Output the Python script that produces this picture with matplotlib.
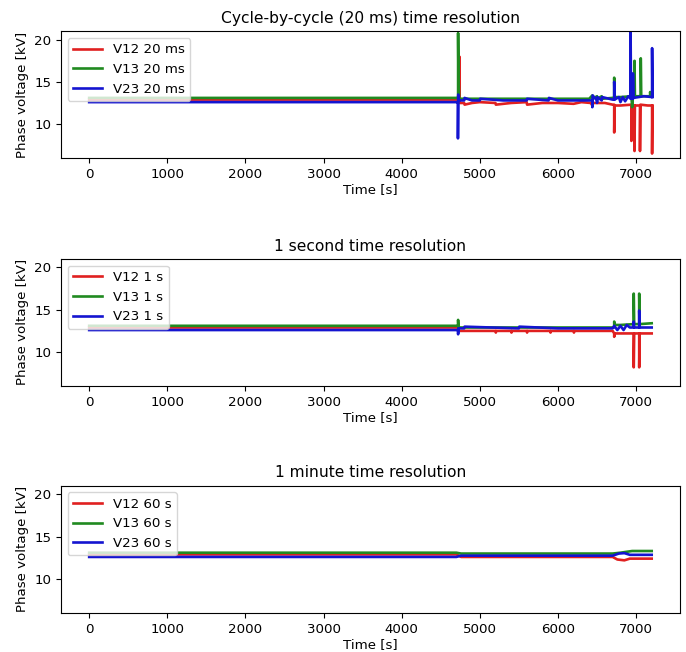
import matplotlib
matplotlib.use("Agg")
import matplotlib.pyplot as plt

# ---------------- data ----------------
# Panel 1: cycle-by-cycle (20 ms)
t12_20 = [0, 4715, 4738, 4738, 4742, 4760, 4800, 4805, 4900, 5000, 5200, 5205, 5400, 5600, 5605, 5800,
          6000, 6200, 6300, 6420, 6440, 6445, 6600, 6700, 6720, 6720, 6725, 6800, 6940, 6940, 6945,
          6980, 6980, 6985, 7050, 7050, 7055, 7150, 7205, 7205, 7210]
v12_20 = [12.9, 12.9, 12.9, 18.0, 12.5, 12.5, 12.5, 12.3, 12.5, 12.6, 12.5, 12.3, 12.5, 12.6, 12.3, 12.5,
          12.5, 12.4, 12.6, 12.5, 12.2, 12.5, 12.5, 12.3, 12.3, 9.0, 12.2, 12.2, 12.3, 8.0, 12.2,
          12.2, 6.8, 12.2, 12.2, 6.8, 12.3, 12.2, 12.2, 6.5, 12.2]

t13_20 = [0, 4718, 4722, 4722, 4726, 4735, 5000, 5500, 6000, 6400, 6440, 6445, 6500, 6505, 6560, 6565,
          6700, 6720, 6720, 6725, 6800, 6940, 6950, 6960, 6980, 6980, 6985, 7060, 7060, 7065,
          7180, 7180, 7185, 7210]
v13_20 = [13.1, 13.1, 13.1, 20.8, 16.0, 13.0, 13.0, 13.0, 13.0, 13.0, 13.4, 13.0, 13.3, 13.0, 13.3, 13.0,
          13.1, 13.1, 15.5, 13.2, 13.2, 13.3, 12.0, 13.3, 13.3, 17.5, 13.3, 13.3, 17.8, 13.3,
          13.3, 13.8, 13.3, 13.3]

t23_20 = [0, 4718, 4720, 4720, 4724, 4724, 4730, 4800, 4805, 4900, 5000, 5005, 5300, 5600, 5605,
          5880, 5885, 6000, 6400, 6440, 6440, 6444, 6500, 6500, 6505, 6560, 6565, 6700,
          6720, 6720, 6725, 6780, 6800, 6830, 6860, 6900, 6930, 6930, 6935, 6960, 6960, 6965,
          7100, 7205, 7205, 7210]
v23_20 = [12.6, 12.6, 12.6, 8.3, 13.5, 12.8, 12.8, 12.8, 13.1, 12.8, 12.8, 13.0, 12.8, 12.8, 13.0,
          12.8, 13.1, 12.8, 12.8, 12.8, 12.0, 13.4, 12.8, 12.5, 13.2, 12.8, 13.2, 12.9,
          12.9, 15.0, 12.9, 13.2, 12.6, 13.2, 12.7, 13.3, 13.0, 21.0, 13.0, 13.0, 16.0, 13.1,
          13.3, 13.2, 19.0, 13.2]

# Panel 2: 1 second
t12_1 = [0, 4715, 4735, 5200, 5205, 5210, 5400, 5405, 5410, 5600, 5605, 5610, 5900, 5905, 5910,
         6200, 6205, 6210, 6700, 6720, 6720, 6725, 6970, 6970, 6975, 7040, 7040, 7045, 7200]
v12_1 = [12.9, 12.9, 12.5, 12.5, 12.3, 12.5, 12.5, 12.3, 12.5, 12.5, 12.3, 12.5, 12.5, 12.3, 12.5,
         12.5, 12.3, 12.5, 12.5, 12.2, 11.8, 12.2, 12.2, 8.2, 12.2, 12.2, 8.2, 12.2, 12.2]

t13_1 = [0, 4718, 4722, 4722, 4726, 5000, 6000, 6700, 6720, 6720, 6725, 6800, 6970, 6970, 6975,
         7040, 7040, 7045, 7200]
v13_1 = [13.1, 13.1, 13.1, 13.8, 12.9, 12.9, 12.9, 12.9, 12.9, 13.6, 13.2, 13.2, 13.3, 16.9, 13.3,
         13.3, 16.9, 13.3, 13.4]

t23_1 = [0, 4718, 4722, 4722, 4726, 4800, 4805, 5500, 5505, 6000, 6700, 6720, 6760, 6800, 6840,
         6880, 6920, 6970, 6970, 6975, 7040, 7040, 7045, 7200]
v23_1 = [12.6, 12.6, 12.6, 12.1, 12.8, 12.8, 13.0, 12.8, 13.0, 12.8, 12.8, 13.1, 12.6, 13.1, 12.6,
         13.2, 12.9, 12.9, 13.6, 12.9, 12.9, 14.9, 12.9, 12.9]

# Panel 3: 1 minute
t12_60 = [0, 4700, 4760, 6700, 6760, 6850, 6920, 7200]
v12_60 = [12.9, 12.9, 12.6, 12.6, 12.3, 12.2, 12.4, 12.4]

t13_60 = [0, 4700, 4760, 6700, 6800, 6950, 7200]
v13_60 = [13.1, 13.1, 13.0, 13.0, 13.1, 13.3, 13.3]

t23_60 = [0, 4700, 4760, 6700, 6780, 6850, 6920, 7200]
v23_60 = [12.6, 12.6, 12.75, 12.75, 13.0, 13.05, 12.85, 12.85]

titles = ["Cycle-by-cycle (20 ms) time resolution", "1 second time resolution", "1 minute time resolution"]
suffixes = ["20 ms", "1 s", "60 s"]
xticks = [0, 1000, 2000, 3000, 4000, 5000, 6000, 7000]
yticks = [10, 15, 20]

panels = [
    [(t12_20, v12_20), (t13_20, v13_20), (t23_20, v23_20)],
    [(t12_1, v12_1), (t13_1, v13_1), (t23_1, v23_1)],
    [(t12_60, v12_60), (t13_60, v13_60), (t23_60, v23_60)],
]
names = ["V12", "V13", "V23"]
colors = ["#e02020", "#208a20", "#1414d0"]

# ---------------- figure ----------------
fig = plt.figure(figsize=(6.86, 6.52), dpi=100)
boxes = [(0.089, 0.758, 0.902, 0.194), (0.089, 0.408, 0.902, 0.195), (0.089, 0.060, 0.902, 0.195)]
fs = 9.6
for i, (box, series) in enumerate(zip(boxes, panels)):
    ax = fig.add_axes(box)
    for (t, v), n, c in zip(series, names, colors):
        ax.plot(t, v, color=c, lw=1.9, label=f"{n} {suffixes[i]}")
    ax.set_xlim(-360, 7560)
    ax.set_ylim(6, 21)
    ax.set_xticks(xticks)
    ax.set_yticks(yticks)
    ax.tick_params(labelsize=fs)
    ax.set_title(titles[i], fontsize=11.2)
    ax.set_xlabel("Time [s]", fontsize=fs, labelpad=2)
    ax.set_ylabel("Phase voltage [kV]", fontsize=fs)
    ax.legend(loc="upper left", fontsize=fs, handlelength=2.2)

fig.savefig("out.png", dpi=100)
